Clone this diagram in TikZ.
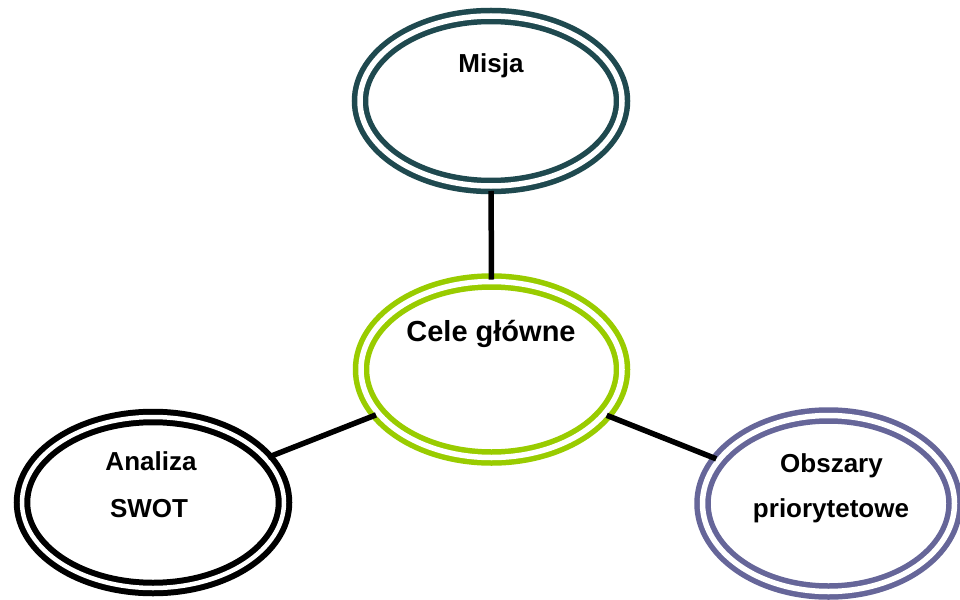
\documentclass[tikz,border=0pt]{standalone}
\usepackage{fontspec}
\setmainfont{Liberation Sans}
\usetikzlibrary{shapes.geometric}
\definecolor{misjacol}{HTML}{1F494F}
\definecolor{celecol}{HTML}{99CC00}
\definecolor{obszcol}{HTML}{666699}
\tikzset{
  ring/.style={ellipse, inner sep=0pt, outer sep=0pt, line width=5.5pt, double=white, double distance=5.5pt},
  lbl/.style={anchor=base, inner sep=0pt, font=\bfseries\fontsize{26}{30}\selectfont},
  biglbl/.style={anchor=base, inner sep=0pt, font=\bfseries\fontsize{29}{33}\selectfont},
  conn/.style={line width=5.5pt, black}
}
\begin{document}
\begin{tikzpicture}[x=1pt,y=-1pt]
\useasboundingbox[fill=white] (0,0) rectangle (960,599);
\node[ring, draw=misjacol, minimum width=262pt, minimum height=170pt] (misja) at (491,101) {};
\node[ring, draw=celecol, minimum width=261pt, minimum height=176pt] (cele) at (491.5,369.5) {};
\node[ring, draw=black, line width=6pt, double distance=4.5pt, minimum width=262pt, minimum height=171pt] (swot) at (153,502.5) {};
\node[ring, draw=obszcol, minimum width=252pt, minimum height=176pt] (obsz) at (828.5,503.5) {};
\draw[conn, shorten <=5pt, shorten >=2pt] (misja) -- (cele);
\draw[conn, shorten <=3pt, shorten >=3pt] (cele) -- (swot);
\draw[conn, shorten <=3pt, shorten >=3pt] (cele) -- (obsz);
\node[lbl] (tmisja) at (491,73) {Misja};
\node[biglbl] (tcele) at (491,341) {Cele główne};
\node[lbl] (tswot1) at (151,470) {Analiza};
\node[lbl] (tswot2) at (149,517) {SWOT};
\node[lbl] (tobsz1) at (831.5,472) {Obszary};
\node[lbl] (tobsz2) at (831,517) {priorytetowe};
\end{tikzpicture}
\end{document}
